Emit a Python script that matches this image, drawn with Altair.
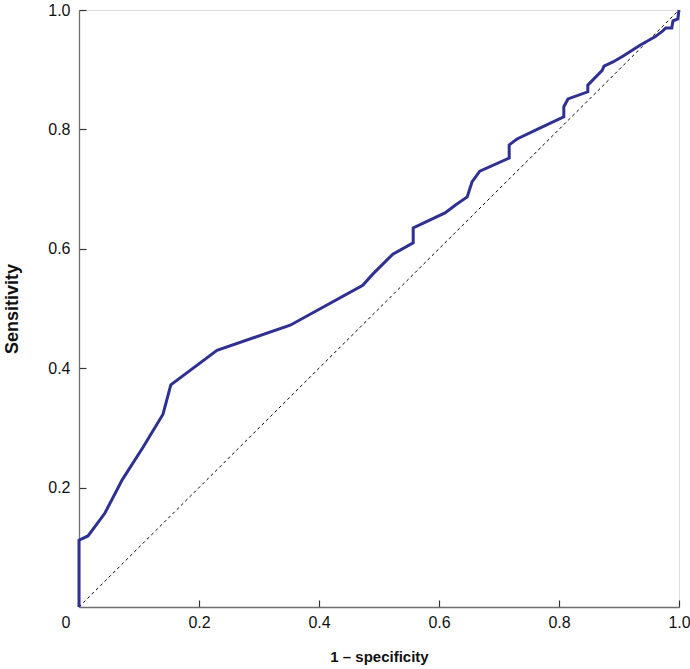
import altair as alt
import pandas as pd

# ROC curve vertices (1 - specificity, sensitivity)
fpr = [0.0, 0.0, 0.015, 0.043, 0.072, 0.107, 0.140, 0.153, 0.230, 0.352,
       0.473, 0.490, 0.523, 0.557, 0.557, 0.610, 0.627, 0.647, 0.655, 0.668,
       0.717, 0.717, 0.730, 0.768, 0.808, 0.808, 0.815, 0.848, 0.848, 0.872,
       0.875, 0.890, 0.907, 0.935, 0.960, 0.973, 0.978, 0.988, 0.990, 0.998,
       1.0]
tpr = [0.0, 0.112, 0.119, 0.157, 0.213, 0.268, 0.323, 0.372, 0.430, 0.472,
       0.539, 0.558, 0.591, 0.610, 0.635, 0.660, 0.673, 0.687, 0.712, 0.730,
       0.752, 0.774, 0.784, 0.802, 0.821, 0.838, 0.851, 0.863, 0.874, 0.899,
       0.906, 0.913, 0.923, 0.941, 0.955, 0.965, 0.970, 0.970, 0.982, 0.985,
       1.0]

x_ticks = [0.0, 0.2, 0.4, 0.6, 0.8, 1.0]
y_ticks = [0.2, 0.4, 0.6, 0.8, 1.0]

W, H = 600, 597
TICK_LEN = 7
AXIS_GRAY = "#6e6e6e"
TICK_COLOR = "#333333"
TEXT = "#111111"
FONT = "Liberation Sans"
LABEL_SIZE = 16

roc = pd.DataFrame({"fpr": fpr, "tpr": tpr, "i": range(len(fpr))})
diag = pd.DataFrame({"fpr": [0.0, 1.0], "tpr": [0.0, 1.0]})

x_scale = alt.Scale(domain=[0, 1], nice=False, zero=False)
y_scale = alt.Scale(domain=[0, 1], nice=False, zero=False)

# Short inward ticks drawn as dashed grid lines that keep only the few
# pixels next to the axis line (x grid runs top -> bottom, y grid left -> right).
common = dict(
    tickSize=0, domainColor=AXIS_GRAY, domainWidth=1.3,
    grid=True, gridColor=TICK_COLOR, gridWidth=1.2, gridCap="butt",
    labelFont=FONT, labelFontSize=LABEL_SIZE, labelColor=TEXT,
    titleFont=FONT, titleFontWeight="bold", titleColor=TEXT,
)

x_axis = alt.Axis(
    values=x_ticks,
    labelExpr="datum.value == 0 ? '0' : format(datum.value, '.1f')",
    labelAlign=alt.expr("datum.value == 0 ? 'right' : 'center'"),
    labelOffset=alt.expr("datum.value == 0 ? -9 : 0"),
    labelPadding=7, title="1 \u2013 specificity", titleFontSize=15,
    titlePadding=19, gridDash=[0, H - TICK_LEN, TICK_LEN, 2000], **common,
)
y_axis = alt.Axis(
    values=y_ticks, format=".1f", labelPadding=9,
    title="Sensitivity", titleFontSize=18, titlePadding=26,
    gridDash=[TICK_LEN, 2000], **common,
)

diagonal = alt.Chart(diag).mark_line(
    color="black", strokeWidth=1, strokeDash=[3, 3]
).encode(
    x=alt.X("fpr:Q", scale=x_scale, axis=x_axis),
    y=alt.Y("tpr:Q", scale=y_scale, axis=y_axis),
)

curve = alt.Chart(roc).mark_line(
    color="#2e3191", strokeWidth=3, strokeJoin="miter", clip=False
).encode(
    x=alt.X("fpr:Q", scale=x_scale),
    y=alt.Y("tpr:Q", scale=y_scale),
    order="i:Q",
)

chart = alt.layer(diagonal, curve).properties(
    width=W, height=H,
    autosize="none",
    padding={"left": 79, "top": 10, "right": 11, "bottom": 62},
).configure_view(stroke=None).configure(background="white")

chart.save("out.html", embed_options={"renderer": "svg", "actions": False})
